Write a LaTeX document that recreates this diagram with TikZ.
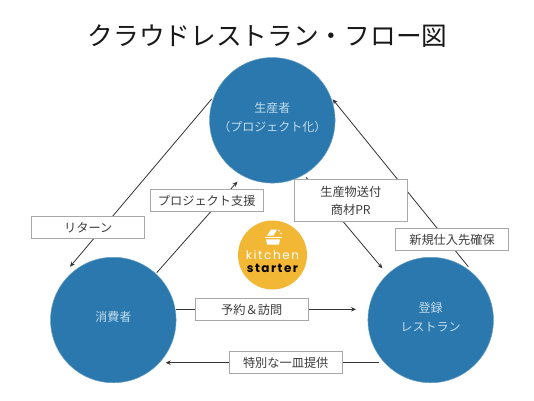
\documentclass[tikz,border=0pt]{standalone}
\usepackage{fontspec}
\setmainfont{Noto Sans CJK JP}
\newfontfamily\logofont{Poppins}
\usetikzlibrary{arrows.meta}
\definecolor{circblue}{HTML}{2A78AD}
\definecolor{circtext}{HTML}{C4DDEE}
\definecolor{boxline}{HTML}{A8A8A8}
\definecolor{inktext}{HTML}{3C3C3C}
\definecolor{logoamber}{HTML}{F3B736}
\newcommand\hubdrop{\rule[-6.5pt]{0pt}{0pt}}
\tikzset{
  hub/.style={circle,fill=circblue,draw=circblue!70!white,line width=.5pt,minimum size=125.5pt,inner sep=0pt,text=circtext,font=\fontsize{12}{18.5}\selectfont,align=center},
  tag/.style={draw=boxline,fill=white,line width=.9pt,minimum width=113pt,inner sep=0pt,text=inktext,font=\fontsize{12.2}{18}\selectfont,align=center},
  flow/.style={draw=black!80,line width=.8pt,-{Stealth[length=5pt,width=4.5pt]}}
}
\begin{document}
\begin{tikzpicture}[x=1pt,y=-1pt]
\useasboundingbox (0,0) rectangle (534,400);
\node[font=\fontsize{25.7}{30}\selectfont,text=black!90] (title) at (267.5,36.5) {クラウドレストラン・フロー図};
\node[hub] (prod) at (272.3,120.3) {生産者\\（プロジェクト化）\hubdrop};
\node[hub] (cons) at (113.3,320) {消費者\hubdrop};
\node[hub] (rest) at (430.7,320) {登録\\レストラン\hubdrop};
\coordinate (retS) at (211.7,99);
\coordinate (retE) at (70,266.7);
\coordinate (supS) at (156.7,272.7);
\coordinate (supE) at (237.3,181.7);
\coordinate (sendS) at (306,177.3);
\coordinate (sendE) at (382.3,268.3);
\coordinate (newS) at (468.3,266.7);
\coordinate (newE) at (332.7,99.3);
\coordinate (resS) at (176,309.3);
\coordinate (resE) at (356,309.3);
\coordinate (dishS) at (379,362.7);
\coordinate (dishE) at (165.7,362.7);
\draw[flow] (retS) -- (retE);
\draw[flow] (supS) -- (supE);
\draw[flow] (sendS) -- (sendE);
\draw[flow] (newS) -- (newE);
\draw[flow] (resS) -- (resE);
\draw[flow] (dishS) -- (dishE);
\node[tag,minimum height=22pt] (tret) at (88.3,227.5) {リターン};
\node[tag,minimum height=22pt] (tsup) at (206.7,200.5) {プロジェクト支援};
\node[tag,minimum height=42pt] (tsend) at (350.8,200.8) {生産物送付\\商材PR};
\node[tag,minimum height=22pt] (tnew) at (452,239.5) {新規仕入先確保};
\node[tag,minimum height=22pt] (tres) at (251.7,309.5) {予約＆訪問};
\node[tag,minimum height=22pt] (tdish) at (285.7,362.8) {特別な一皿提供};
% logo
\node[circle,fill=logoamber,minimum size=69pt,inner sep=0pt] (logo) at (272.5,255) {};
\node[font=\logofont\fontsize{12}{12}\selectfont,text=white] (lk) at (272.5,255) {k\kern1.6pt i\kern1.6pt t\kern1.6pt c\kern1.6pt h\kern1.6pt e\kern1.6pt n};
\node[font=\logofont\fontsize{12}{12}\selectfont\bfseries,text=black] (ls) at (272.5,268.5) {s\kern1.5pt t\kern1.5pt a\kern1.5pt r\kern1.5pt t\kern1.5pt e\kern1.5pt r};
\fill[white] (264.5,236.5) rectangle (281.5,238.3);
\fill[white] (266,239.3) -- (280,239.3) -- (279,244.5) -- (267,244.5) -- cycle;
\fill[white] (267,235.5) -- (271,229.5) -- (277,229.5) -- (273.5,235.5) -- cycle;
\fill[white] (279,230.5) circle (1pt) (281,233.5) circle (.9pt);
\end{tikzpicture}
\end{document}
